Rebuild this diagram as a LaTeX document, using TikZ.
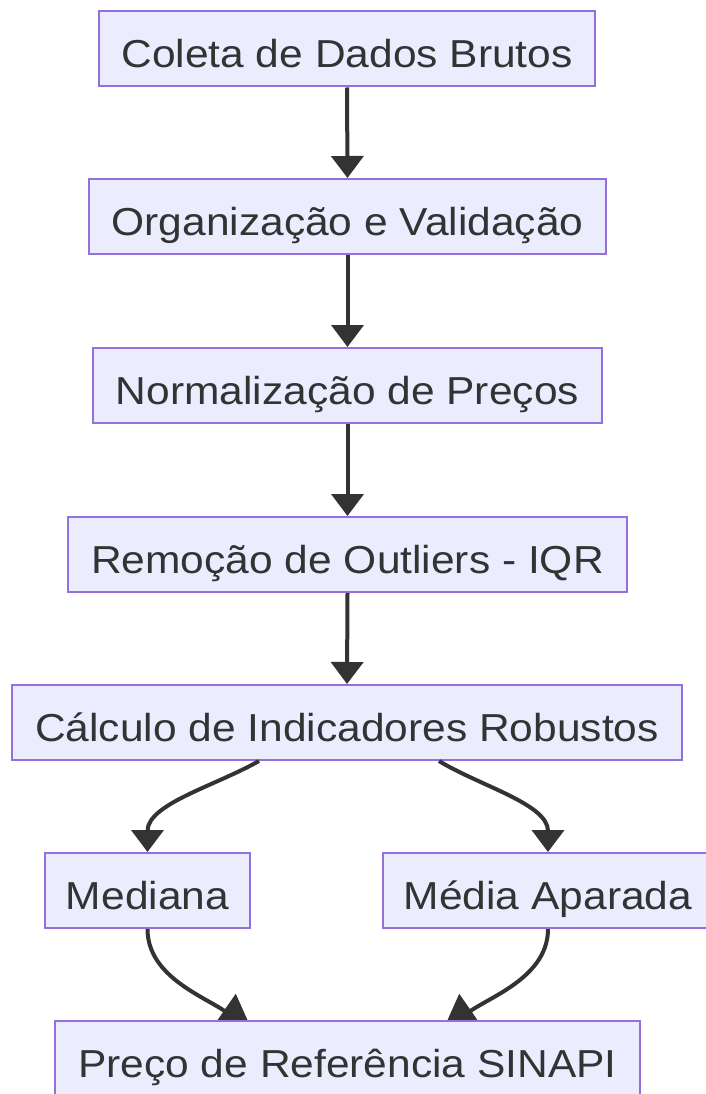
\documentclass[tikz,border=0pt]{standalone}
\usepackage{fontspec}
\setmainfont{Liberation Sans}[FakeStretch=1.09]
\usetikzlibrary{arrows.meta}
\pgfdeclarelayer{background}
\pgfsetlayers{background,main}
\definecolor{boxfill}{HTML}{ECECFF}
\definecolor{boxline}{HTML}{9370DB}
\definecolor{ink}{HTML}{333333}
\begin{document}
\begin{tikzpicture}[x=1pt,y=-1pt,
  box/.style={draw=boxline, fill=boxfill, line width=2pt, rectangle, inner sep=0pt,
    minimum height=75pt, text height=37pt, text depth=0pt, text=ink,
    font=\fontsize{39}{47}\selectfont},
  flow/.style={draw=ink, line width=4pt, -{Triangle[width=32pt,length=22pt]}, fill=none},
  hidflow/.style={draw=ink, line width=4pt, -{Triangle[width=40pt,length=34pt]}, fill=none}]
\path[use as bounding box] (0,0) rectangle (705,1094);
\node[box, minimum width=496pt] (b1) at (347,49) {Coleta de Dados Brutos};
\node[box, minimum width=517pt] (b2) at (347.5,216.5) {Organização e Validação};
\node[box, minimum width=509pt] (b3) at (347.5,385.5) {Normalização de Preços};
\node[box, minimum width=559pt] (b4) at (347.5,554.5) {Remoção de Outliers - IQR};
\node[box, minimum width=670pt] (b5) at (347,722.5) {Cálculo de Indicadores Robustos};
\node[box, minimum width=205pt] (med) at (147.5,890.5) {Mediana};
\node[box, minimum width=330pt] (ma) at (548,890.5) {Média Aparada};
\node[box, minimum width=585pt] (pr) at (347.5,1058.5) {Preço de Referência SINAPI};
\draw[flow] (b1.south) -- (b2.north);
\draw[flow] (b2.south) -- (b3.north);
\draw[flow] (b3.south) -- (b4.north);
\draw[flow] (b4.south) -- (b5.north);
\draw[flow] ([xshift=-88pt]b5.south) .. controls +(-44,25) and +(0,-48) .. (med.north);
\draw[flow] ([xshift=92pt]b5.south) .. controls +(41,25) and +(0,-48) .. (ma.north);
\begin{pgfonlayer}{background}
\draw[hidflow] (med.south) .. controls +(0,47) and +(-49,-34) .. ([xshift=-95.5pt,yshift=-10pt]pr.north);
\draw[hidflow] (ma.south) .. controls +(0,47) and +(49,-34) .. ([xshift=95.5pt,yshift=-10pt]pr.north);
\end{pgfonlayer}
\end{tikzpicture}
\end{document}
